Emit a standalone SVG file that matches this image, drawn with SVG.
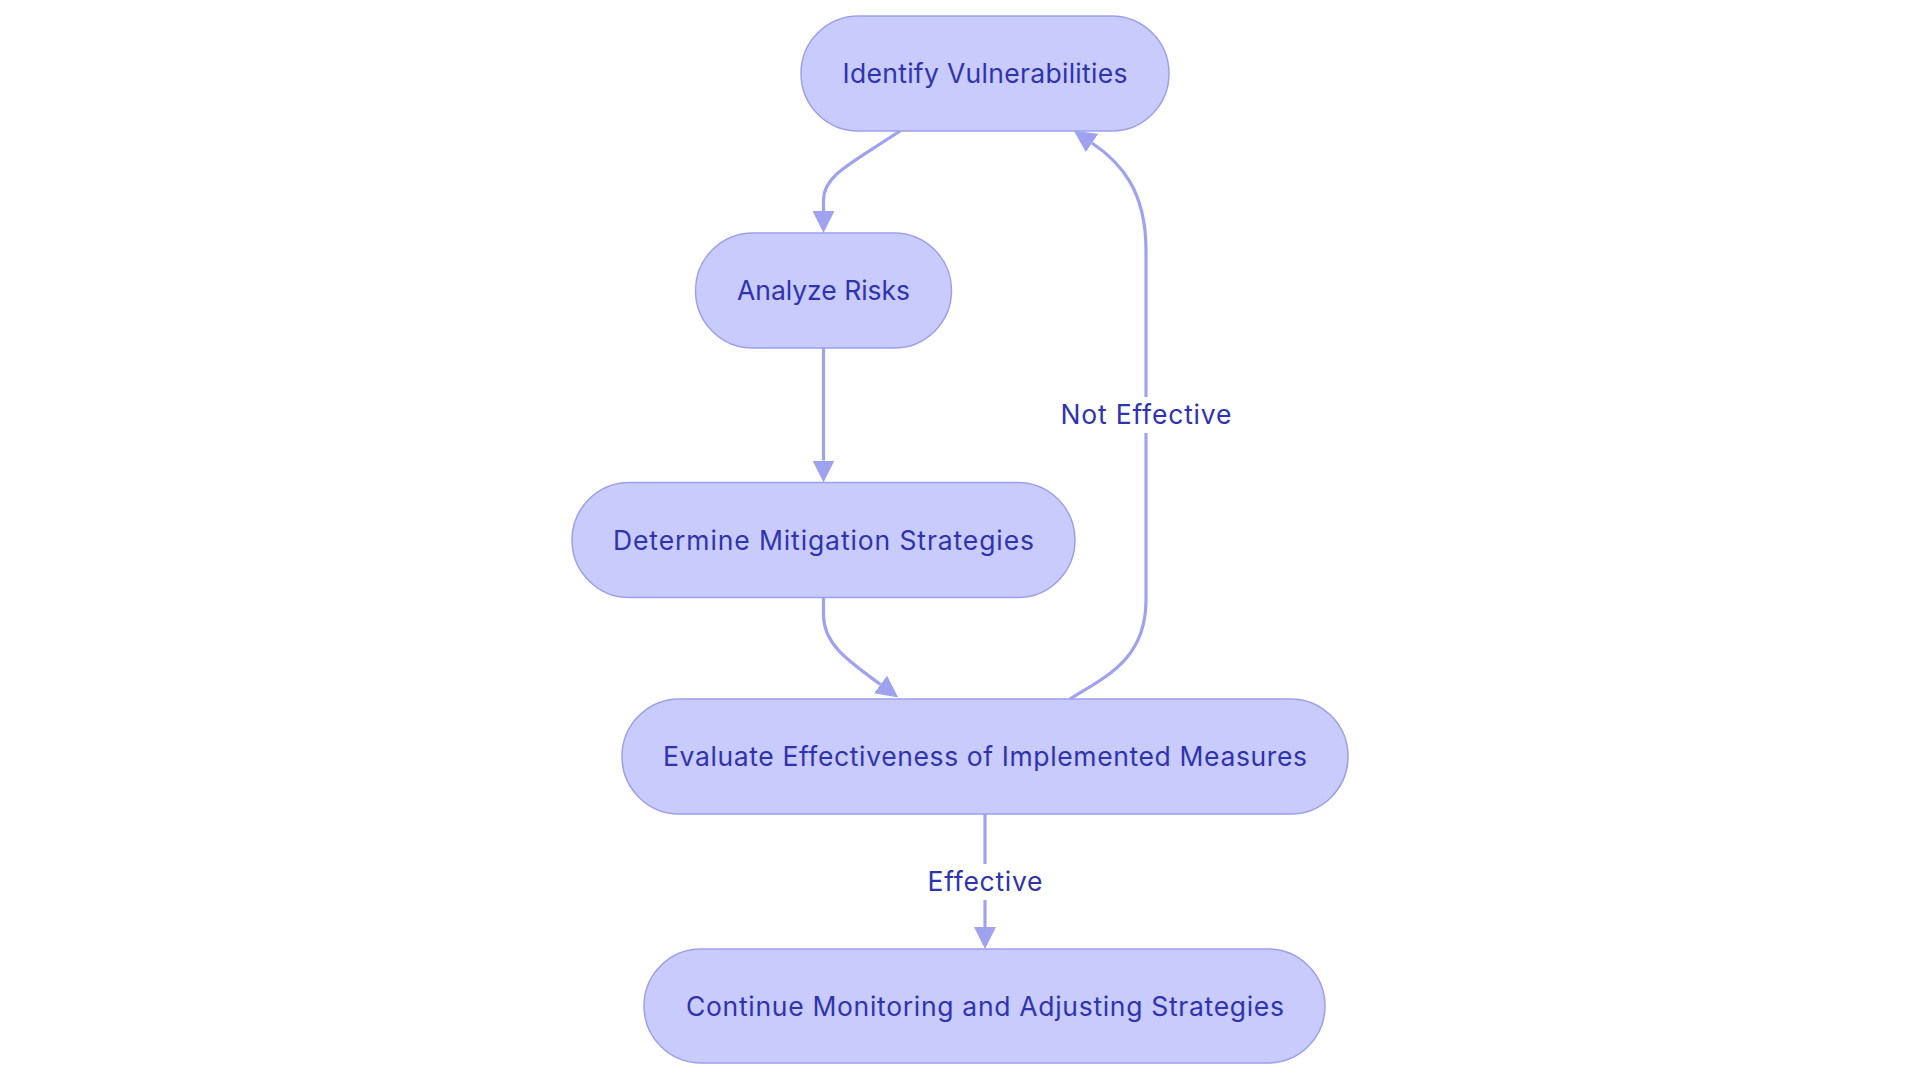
<svg xmlns="http://www.w3.org/2000/svg" width="1920" height="1080" viewBox="0 0 1920 1080">
<style>
.node rect{fill:#c8cbfc;stroke:#9ca0ec;stroke-width:1.5}
.node text,.lbl text{font-family:Inter,"Noto Sans",sans-serif;font-size:26.5px;fill:#2f33ae;text-anchor:middle}
.edge{fill:none;stroke:#9fa3ef;stroke-width:3.2}
.lbl rect{fill:#ffffff}
</style>
<defs>
<marker id="arr" markerUnits="userSpaceOnUse" markerWidth="22" markerHeight="22" viewBox="0 0 10 10" refX="0" refY="5" orient="auto">
<path d="M0,0 L10,5 L0,10 z" fill="#9fa3ef"/>
</marker>
</defs>
<rect width="1920" height="1080" fill="#ffffff"/>
<g id="connectors">
<path class="edge" d="M900,131 C852,163 823.5,175 823.5,200 L823.5,211" marker-end="url(#arr)"/>
<path class="edge" d="M823.5,348 L823.5,460.5" marker-end="url(#arr)"/>
<path class="edge" d="M823.5,597.5 L823.5,615 C823.5,645 850,662 880.5,684.5" marker-end="url(#arr)"/>
<path class="edge" d="M1070,699 C1105,677 1146,660 1146,600 L1146,250 C1146,190 1120,162 1092,143" marker-end="url(#arr)"/>
<path class="edge" d="M985,814 L985,927" marker-end="url(#arr)"/>
<g class="lbl" id="label-not-effective">
<rect x="1056" y="397" width="180" height="36"/>
<text x="1146" y="424" textLength="171" lengthAdjust="spacing">Not Effective</text>
</g>
<g class="lbl" id="label-effective">
<rect x="924" y="864" width="122" height="36"/>
<text x="985" y="891" textLength="115" lengthAdjust="spacing">Effective</text>
</g>
</g>
<g id="identify" class="node">
<rect x="801" y="16" width="368" height="115" rx="57.5"/>
<text x="985" y="83" textLength="285" lengthAdjust="spacing">Identify Vulnerabilities</text>
</g>
<g id="analyze" class="node">
<rect x="695.5" y="233" width="256" height="115" rx="57.5"/>
<text x="823.5" y="300" textLength="173" lengthAdjust="spacing">Analyze Risks</text>
</g>
<g id="determine" class="node">
<rect x="572" y="482.5" width="503" height="115" rx="57.5"/>
<text x="823.5" y="549.5" textLength="421" lengthAdjust="spacing">Determine Mitigation Strategies</text>
</g>
<g id="evaluate" class="node">
<rect x="622" y="699" width="726" height="115" rx="57.5"/>
<text x="985" y="766" textLength="644" lengthAdjust="spacing">Evaluate Effectiveness of Implemented Measures</text>
</g>
<g id="continue" class="node">
<rect x="644" y="949" width="681" height="114" rx="57"/>
<text x="985" y="1016" textLength="598" lengthAdjust="spacing">Continue Monitoring and Adjusting Strategies</text>
</g>
</svg>
